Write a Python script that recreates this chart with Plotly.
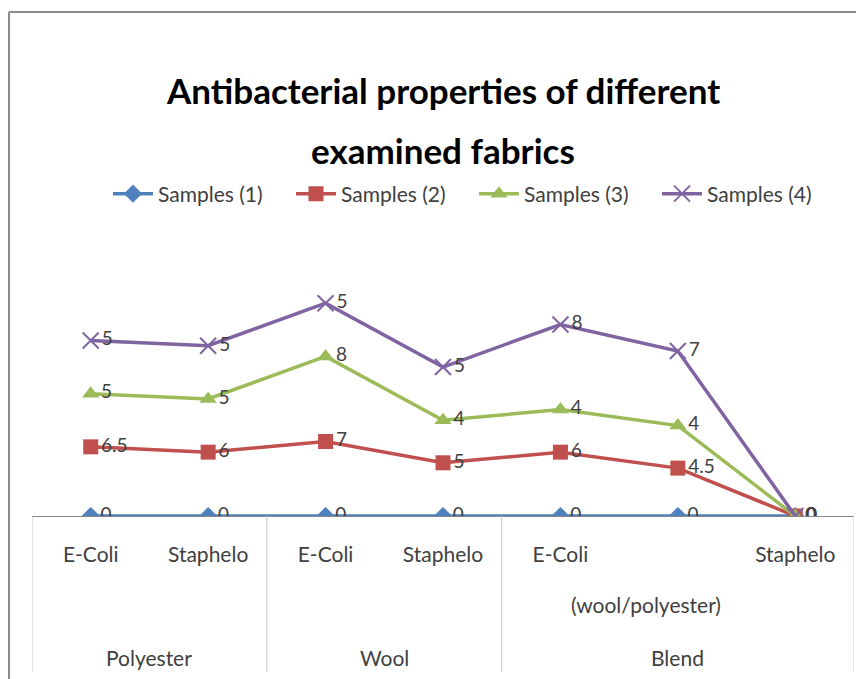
import plotly.graph_objects as go

# level-1 categories (tick labels), level-2 and group labels
tests = ["E-Coli", "Staphelo", "E-Coli", "Staphelo", "E-Coli", "", "Staphelo"]
groups = ["Polyester", "Wool", "Blend"]
sub_label = "(wool/polyester)"

series_names = ["Samples (1)", "Samples (2)", "Samples (3)", "Samples (4)"]
samples_1 = [0, 0, 0, 0, 0, 0, 0]
samples_2 = [6.5, 6, 7, 5, 6, 4.5, 0]
samples_3 = [5, 5, 8, 4, 4, 4, 0]
samples_4 = [5, 5, 5, 5, 8, 7, 0]

FONT = "Lato"
TXT = "#404040"

styles = [
    dict(color="#4F81BD", symbol="diamond", size=14, lw=0),
    dict(color="#C0504D", symbol="square", size=15, lw=0),
    dict(color="#9BBB59", symbol="triangle-up", size=15, lw=0),
    dict(color="#8064A2", symbol="x-thin", size=16, lw=2),
]

# page offset (body margin) and the plot area in page pixels
OFF = 8
L, R, T, B = 32, 854, 250, 516
PH = float(B - T)
PW = float(R - L)


def py(pix):
    return 1 + (T - pix) / PH


def px(pix):
    return (pix - L) / PW


x = list(range(len(tests)))
fig = go.Figure()
for name, vals, st in zip(series_names, [samples_1, samples_2, samples_3, samples_4], styles):
    fig.add_trace(go.Scatter(
        x=x, y=vals, name=name,
        stackgroup="one", fill="none",
        mode="lines+markers+text",
        line=dict(color=st["color"], width=3.5),
        marker=dict(symbol=st["symbol"], size=st["size"], color=st["color"],
                    line=dict(width=st["lw"], color=st["color"])),
        text=[f"{v:g}" for v in vals],
        textposition="middle right",
        textfont=dict(family=FONT, size=19, color=TXT),
    ))

# divider lines of the multi-level axis
for xd in [-0.5, 1.5, 3.5, 6.5]:
    fig.add_shape(type="line", xref="x", yref="paper", x0=xd, x1=xd, y0=0, y1=py(672),
                  line=dict(color="#C8C8C8", width=1))

# outer chart frame (top and left)
fig.add_shape(type="line", xref="paper", yref="paper", x0=px(9), x1=px(880), y0=py(12), y1=py(12),
              line=dict(color="#8C8C8C", width=2))
fig.add_shape(type="line", xref="paper", yref="paper", x0=px(9), x1=px(9), y0=py(12), y1=py(700),
              line=dict(color="#8C8C8C", width=2))

# second and third level labels
fig.add_annotation(x=4.73, y=py(604), xref="x", yref="paper", text=sub_label, showarrow=False,
                   font=dict(family=FONT, size=21, color=TXT), yanchor="middle")
for i, g in enumerate(groups):
    centre = [0.5, 2.5, 5][i]
    fig.add_annotation(x=centre, y=py(657), xref="x", yref="paper", text=g, showarrow=False,
                       font=dict(family=FONT, size=21, color=TXT), yanchor="middle")

# title, two lines
fig.add_annotation(x=px(443), y=py(90), xref="paper", yref="paper",
                   text="<b>Antibacterial properties of different</b>",
                   showarrow=False, font=dict(family=FONT, size=35, color="#000000"), yanchor="middle")
fig.add_annotation(x=px(443), y=py(150), xref="paper", yref="paper", text="<b>examined fabrics</b>",
                   showarrow=False, font=dict(family=FONT, size=35, color="#000000"), yanchor="middle")

fig.update_layout(
    width=864, height=679,
    margin=dict(l=L - OFF, r=864 - (R - OFF), t=T - OFF, b=679 - (B - OFF)),
    paper_bgcolor="white", plot_bgcolor="white",
    showlegend=True,
    legend=dict(orientation="h", x=px(108), xanchor="left", y=py(194), yanchor="middle",
                font=dict(family=FONT, size=21, color=TXT), traceorder="normal",
                itemwidth=40, entrywidth=128),
    xaxis=dict(range=[-0.5, 6.5], tickvals=x, ticktext=tests, showgrid=False, zeroline=False,
               showline=True, linecolor="#868686", linewidth=1, ticks="",
               ticklabelstandoff=20, automargin=False,
               tickfont=dict(family=FONT, size=21, color=TXT)),
    yaxis=dict(range=[0, 25], showgrid=False, zeroline=False, showticklabels=False,
               showline=False, automargin=False),
)

fig.write_html("out.html")
